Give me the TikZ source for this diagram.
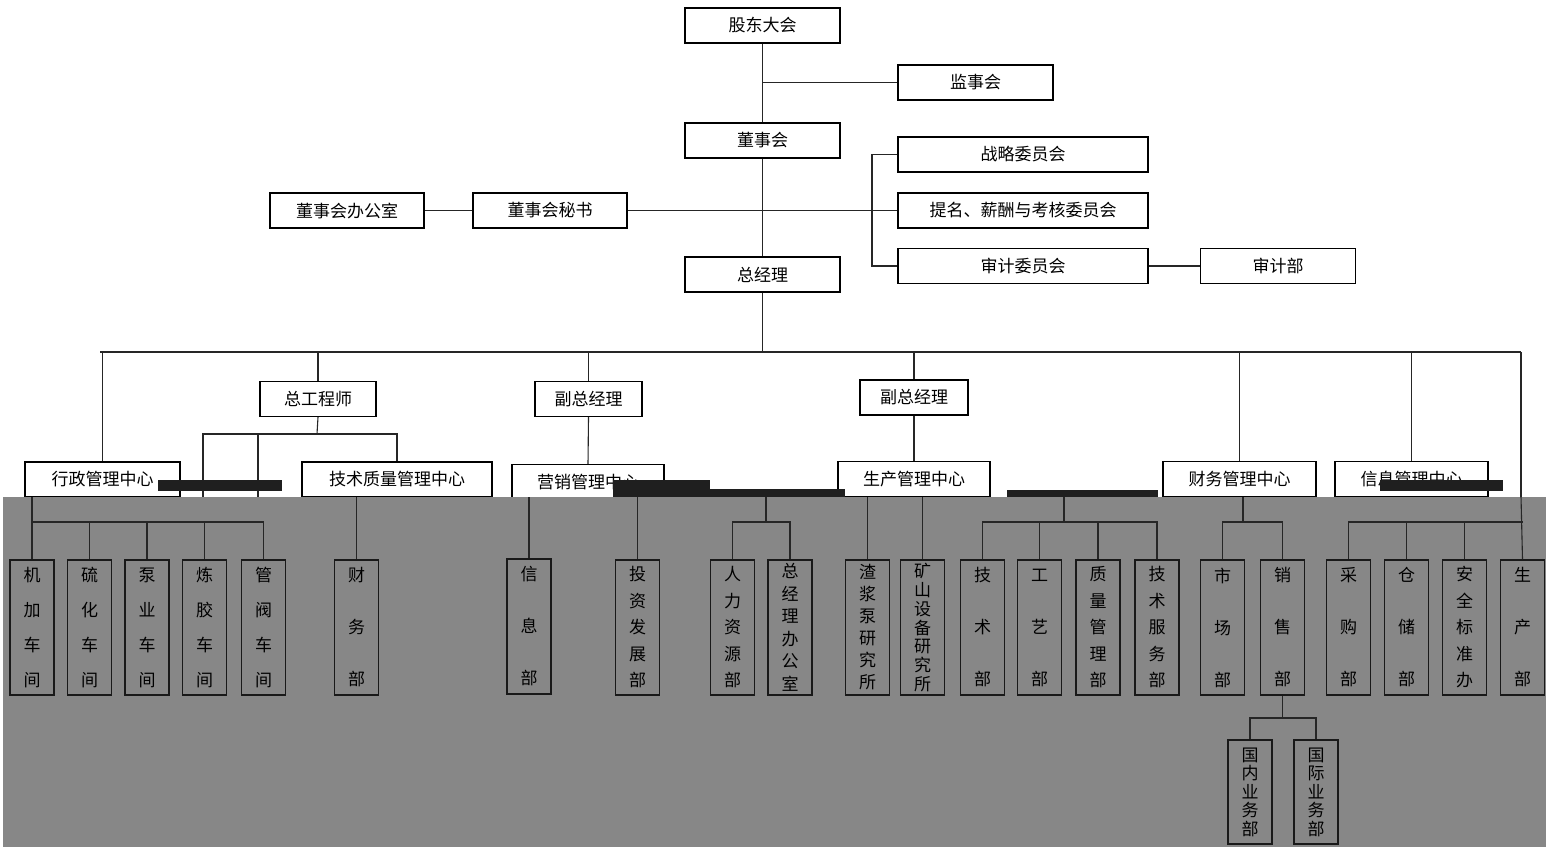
\documentclass[tikz,border=0pt]{standalone}
\usepackage{fontspec}
\newfontfamily\cjk{Noto Sans CJK SC}
\newcommand\cnf{\cjk\fontsize{17}{20}\selectfont}
\begin{document}
\begin{tikzpicture}[x=1pt,y=-1pt,
  box/.style={draw, line width=1.1pt, fill=white, minimum height=35pt, inner sep=0pt, font=\cnf},
  vb/.style={draw=black!90, line width=1.1pt, minimum width=44pt, minimum height=135pt, inner sep=0pt, align=center, font={\cjk\fontsize{17}{#1}\selectfont}},
  vs/.style={draw=black!90, line width=1.1pt, minimum width=44pt, minimum height=104pt, inner sep=0pt, align=center, font={\cjk\fontsize{17}{18.5}\selectfont}},
  ln/.style={line width=1.1pt, draw=black!85},
  glitch/.style={fill=black!88, draw=none}]
\useasboundingbox (0,0) rectangle (1546,847);
\fill[white] (0,0) rectangle (1546,847);

% ---- top part ----
\node[box, minimum width=155pt] (gd) at (762.5,25.5) {股东大会};
\node[box, minimum width=155pt] (js) at (975.5,82.5) {监事会};
\node[box, minimum width=155pt] (dsh) at (762.5,140.5) {董事会};
\node[box, minimum width=250pt] (zl) at (1023,154.5) {战略委员会};
\node[box, minimum width=250pt] (tm) at (1023,210.5) {提名、薪酬与考核委员会};
\node[box, minimum width=250pt] (sj) at (1023,266) {审计委员会};
\node[box, minimum width=155pt] (sjb) at (1278,266) {审计部};
\node[box, minimum width=154pt] (bgs) at (347,210.5) {董事会办公室};
\node[box, minimum width=154pt] (ms) at (550,210.5) {董事会秘书};
\node[box, minimum width=155pt] (zjl) at (762.5,274.5) {总经理};
\node[box, minimum width=116pt] (zgcs) at (318,399) {总工程师};
\node[box, minimum width=107pt] (fz1) at (588.5,399) {副总经理};
\node[box, minimum width=108pt] (fz2) at (914,397.5) {副总经理};

\coordinate (bus) at (762.5,352);
\coordinate (brk) at (872,210.5);
\coordinate (zg) at (317,434);
\coordinate (band) at (0,497);

\draw[ln] (gd) -- (dsh);
\draw[ln] (dsh) -- (zjl);
\draw[ln] (js.west) -- (js.west -| gd.south);
\draw[ln] (bgs) -- (ms);
\draw[ln] (ms.east) -- (tm.west);
\draw[ln] (zl.west) -| (brk) |- (sj.west);
\draw[ln] (sj) -- (sjb);
\draw[ln] (zjl) -- (bus);
\draw[ln] (100,352) -- (1521,352);

% ---- centre boxes in the band ----
\node[box, minimum width=155pt] (xz) at (102.5,479.5) {行政管理中心};
\node[box, minimum width=190pt] (jszl) at (397,479.5) {技术质量管理中心};
\node[box, minimum width=152pt] (yx) at (588,482) {营销管理中心};
\node[box, minimum width=152pt] (sc) at (914,479) {生产管理中心};
\node[box, minimum width=153pt] (cw) at (1239.5,479) {财务管理中心};
\node[box, minimum width=153pt] (xx) at (1411.5,479) {信息管理中心};

\draw[ln] (xz.north |- bus) -- (xz.north);
\draw[ln] (zgcs.north |- bus) -- (zgcs.north);
\draw[ln] (fz1.north |- bus) -- (fz1.north);
\draw[ln] (fz2.north |- bus) -- (fz2.north);
\draw[ln] (cw.north |- bus) -- (cw.north);
\draw[ln] (xx.north |- bus) -- (xx.north);
\draw[ln] (1521,352) -- (1521,497);
\draw[ln] (zgcs.south) -- (zg);
\draw[ln] (203,497) |- (jszl.north |- zg) -- (jszl.north);
\draw[ln] (258,434) -- (258,497);
\draw[ln] (fz1.south) -- (yx.north);
\draw[ln] (fz2.south) -- (sc.north);

% glitch bars of the reference
\fill[glitch] (158,480) rectangle (282,491);
\fill[glitch] (613,480) rectangle (710,497);
\fill[glitch] (710,489) rectangle (845,497);
\fill[glitch] (1007,490) rectangle (1158,498);
\fill[glitch] (1380,480) rectangle (1503,491);

% ---- grey lower part ----
\fill[black!47] (3,497) rectangle (1546,847);

\node[vb=35] (w1) at (32,627.5) {机\\加\\车\\间};
\node[vb=35] (w2) at (89.5,627.5) {硫\\化\\车\\间};
\node[vb=35] (w3) at (147,627.5) {泵\\业\\车\\间};
\node[vb=35] (w4) at (204.5,627.5) {炼\\胶\\车\\间};
\node[vb=35] (w5) at (263.5,627.5) {管\\阀\\车\\间};
\node[vb=52] (cwb) at (356.5,627.5) {财\\务\\部};
\node[vb=52] (xxb) at (529,626.5) {信\\息\\部};
\node[vb=26.5] (tz) at (637.5,627.5) {投\\资\\发\\展\\部};
\node[vb=26.5] (rl) at (732.5,627.5) {人\\力\\资\\源\\部};
\node[vb=22.5] (zb) at (790,627.5) {总\\经\\理\\办\\公\\室};
\node[vb=22] (zj) at (867.5,627.5) {渣\\浆\\泵\\研\\究\\所};
\node[vb=18.8] (ks) at (922.5,627.5) {矿\\山\\设\\备\\研\\究\\所};
\node[vb=52] (jsb) at (982.5,627.5) {技\\术\\部};
\node[vb=52] (gy) at (1039.5,627.5) {工\\艺\\部};
\node[vb=26.5] (zlb) at (1098,627.5) {质\\量\\管\\理\\部};
\node[vb=26.5] (jf) at (1157,627.5) {技\\术\\服\\务\\部};
\node[vb=52] (scm) at (1222.5,627.5) {市\\场\\部};
\node[vb=52] (xs) at (1282.5,627.5) {销\\售\\部};
\node[vb=52] (cg) at (1348.5,627.5) {采\\购\\部};
\node[vb=52] (cc) at (1406.5,627.5) {仓\\储\\部};
\node[vb=26.5] (aq) at (1464.5,627.5) {安\\全\\标\\准\\办};
\node[vb=52] (scb) at (1522.5,627.5) {生\\产\\部};
\node[vs] (nn) at (1250,792) {国\\内\\业\\务\\部};
\node[vs] (gj) at (1316,792) {国\\际\\业\\务\\部};

\coordinate (h) at (0,522);
\coordinate (xsj) at (1282.5,718);

\draw[ln] (w1.north |- band) -- (w1.north);
\draw[ln] (w1.north |- h) -- (w5.north |- h);
\foreach \w in {w2,w3,w4,w5} \draw[ln] (\w.north |- h) -- (\w.north);
\draw[ln] (cwb.north |- band) -- (cwb.north);
\draw[ln] (xxb.north |- band) -- (xxb.north);
\draw[ln] (tz.north |- band) -- (tz.north);
\draw[ln] (766,497) -- (766,522);
\draw[ln] (rl.north) |- (zb.north |- h) -- (zb.north);
\draw[ln] (zj.north |- band) -- (zj.north);
\draw[ln] (ks.north |- band) -- (ks.north);
\draw[ln] (1064,497) -- (1064,522);
\draw[ln] (jsb.north) |- (jf.north |- h) -- (jf.north);
\foreach \w in {gy,zlb} \draw[ln] (\w.north |- h) -- (\w.north);
\draw[ln] (1243,497) -- (1243,522);
\draw[ln] (scm.north) |- (xs.north |- h) -- (xs.north);
\draw[ln] (1521,497) -- (scb.north);
\draw[ln] (cg.north) |- (scb.north |- h);
\foreach \w in {cc,aq} \draw[ln] (\w.north |- h) -- (\w.north);
\draw[ln] (xs.south) -- (xsj);
\draw[ln] (nn.north) |- (xsj) -| (gj.north);
\end{tikzpicture}
\end{document}
